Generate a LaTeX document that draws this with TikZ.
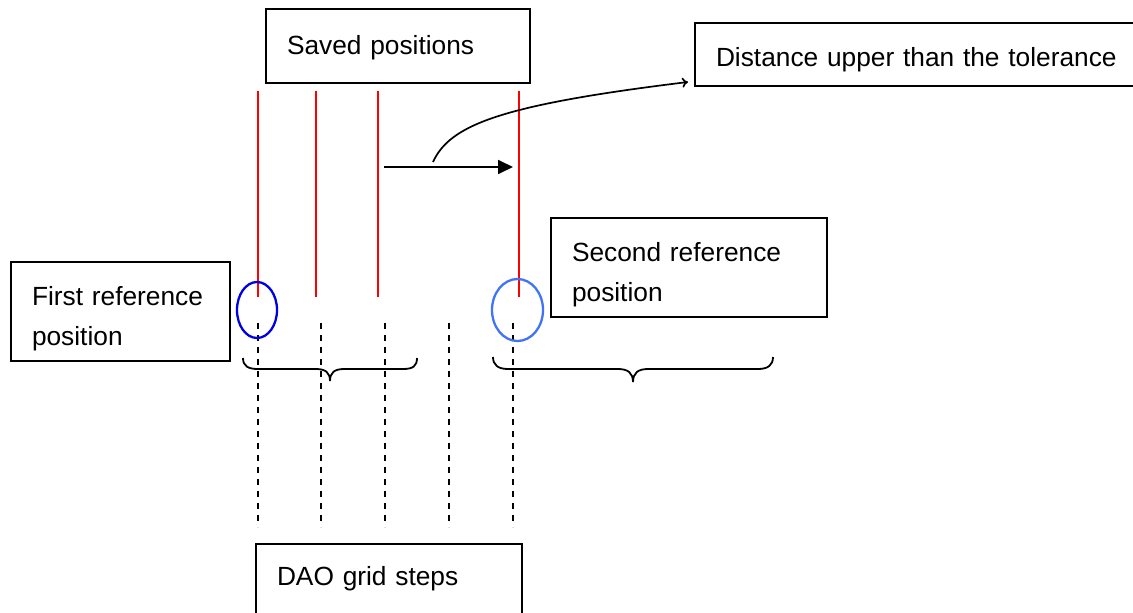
\documentclass[tikz,border=0pt]{standalone}
\usepackage{fontspec}
\setmainfont{Liberation Sans}
\usetikzlibrary{arrows.meta}
\definecolor{redline}{RGB}{255,0,0}
\definecolor{darkblue}{RGB}{0,0,230}
\definecolor{lightblue}{RGB}{65,115,245}
\newcommand{\lowerfirst}{\rule{0pt}{33pt}}
\tikzset{
  box/.style={draw=black, line width=2pt, rectangle, inner xsep=21pt, inner ysep=0pt,
    font=\fontsize{26.3}{40}\selectfont, align=left},
  redmark/.style={draw=redline, line width=2.6pt},
  gridline/.style={draw=black, line width=1.8pt, dash pattern=on 6pt off 6pt},
  brace/.style={draw=black, line width=1.8pt},
  refring/.style={line width=2.3pt},
}
\begin{document}
\begin{tikzpicture}[x=1pt,y=-1pt]
\useasboundingbox (0,0) rectangle (1133,613);
% boxes
\node[box, anchor=north west, text width=222pt, text height=45pt, text depth=29pt] (saved) at (265,8) {Saved positions};
\node[box, anchor=north west, text width=420pt, text height=43pt, text depth=20pt] (dist) at (694,22) {Distance upper than the tolerance};
\node[box, minimum width=219pt, minimum height=99pt, text width=177pt] (first) at (120.5,311.5) {\lowerfirst First reference\\position};
\node[box, minimum width=276pt, minimum height=99pt, text width=234pt] (second) at (689,267.5) {\lowerfirst Second reference\\position};
\node[box, anchor=north west, text width=224pt, text height=41pt, text depth=60pt] (dao) at (255,543) {DAO grid steps};
% red saved positions
\foreach \x/\n in {258/r1,316/r2,378/r3,519/r4}{
  \coordinate (\n top) at (\x,91);
  \coordinate (\n bot) at (\x,297);
  \draw[redmark] (\n top) -- (\n bot);
}
% dashed grid steps
\foreach \x/\n in {258/g1,321/g2,385/g3,449/g4,513/g5}{
  \coordinate (\n top) at (\x,323);
  \coordinate (\n bot) at (\x,527);
  \draw[gridline] (\n top) -- (\n bot);
}
% reference circles
\draw[refring, darkblue] (257,310) ellipse [x radius=20, y radius=28];
\draw[refring, lightblue] (517.5,310) ellipse [x radius=25.5, y radius=31];
% braces
\draw[brace] (243,358) .. controls (243,366) and (248,369) .. (258,369) -- (316,369)
  .. controls (326,369) and (330,373) .. (330,381)
  .. controls (330,373) and (334,369) .. (344,369) -- (403,369)
  .. controls (413,369) and (417,366) .. (417,358);
\draw[brace] (493,357) .. controls (493,365) and (498,369) .. (508,369) -- (618,369)
  .. controls (628,369) and (633,373) .. (633,382)
  .. controls (633,373) and (638,369) .. (648,369) -- (758,369)
  .. controls (768,369) and (773,365) .. (773,357);
% arrows
\coordinate (mvstart) at (384,167);
\coordinate (mvend) at (513,167);
\draw[line width=1.8pt, -{Triangle[length=15pt,width=14pt]}] (mvstart) -- (mvend);
\coordinate (cstart) at (433,162);
\coordinate (ctip) at (688,82);
\draw[line width=1.7pt, -{To[length=6pt,width=10pt]}] (cstart) .. controls (450,125) and (500,105) .. (ctip);
\end{tikzpicture}
\end{document}
